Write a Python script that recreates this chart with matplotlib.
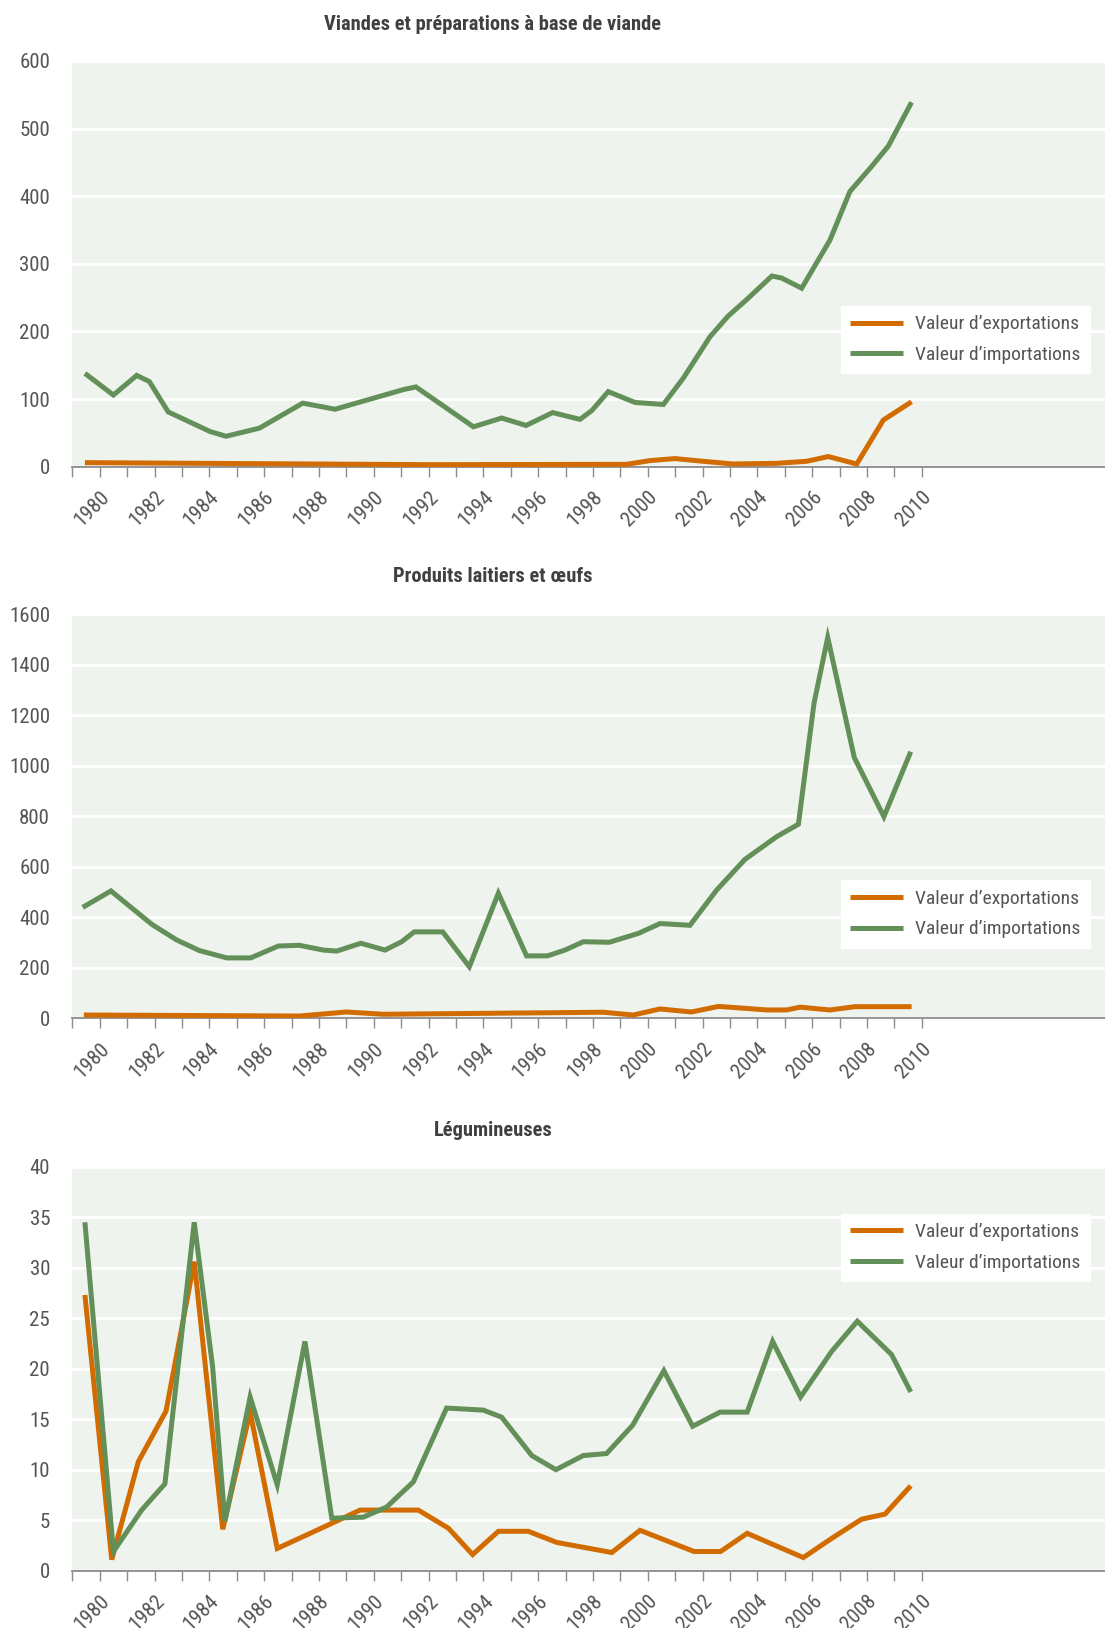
import matplotlib
matplotlib.use("Agg")
import matplotlib.pyplot as plt
from matplotlib.ticker import MultipleLocator, FixedLocator

plt.rcParams['font.family'] = ['Roboto Condensed', 'Lato', 'DejaVu Sans']

# --- data (x in years) ---
titles = ["Viandes et préparations à base de viande",
          "Produits laitiers et œufs",
          "Légumineuses"]
labels = ["Valeur d\u2019exportations", "Valeur d\u2019importations"]

meat_imp_x = [1979.46, 1980.50, 1981.35, 1981.81, 1982.50, 1984.03, 1984.61, 1985.83,
              1987.41, 1988.59, 1990.05, 1991.08, 1991.54, 1993.64, 1994.67, 1995.56,
              1996.53, 1997.53, 1997.96, 1998.56, 1999.54, 2000.57, 2001.30, 2002.27,
              2002.94, 2003.61, 2004.53, 2004.89, 2005.62, 2006.65, 2007.38, 2008.17,
              2008.78, 2009.63]
meat_imp_y = [138, 106, 135, 126, 81, 52, 45, 57, 94, 85, 102, 114, 118, 59, 72, 61,
              80, 70, 83, 111, 95, 92, 131, 192, 223, 247, 282, 279, 264, 335, 407, 444,
              474, 539]
meat_exp_x = [1979.46, 1992.0, 1999.23, 2000.08, 2000.99, 2002.03, 2003.12, 2004.71,
              2005.80, 2006.59, 2007.63, 2008.60, 2009.63]
meat_exp_y = [6, 3, 3.5, 9, 12, 8, 4, 5, 8, 15, 4, 69, 96]

dairy_imp_x = [1979.38, 1980.41, 1981.90, 1982.81, 1983.64, 1984.64, 1985.51, 1986.52,
               1987.28, 1988.16, 1988.65, 1989.53, 1990.41, 1991.02, 1991.48, 1992.52,
               1993.49, 1994.55, 1995.58, 1996.34, 1996.98, 1997.65, 1998.60, 1999.66,
               2000.45, 2001.54, 2002.52, 2003.55, 2004.71, 2005.50, 2006.07, 2006.57,
               2007.54, 2008.62, 2009.60]
dairy_imp_y = [439, 504, 372, 310, 268, 239, 239, 286, 289, 270, 266, 297, 270, 303, 342,
               342, 204, 495, 247, 247, 270, 303, 301, 336, 375, 368, 508, 629, 719, 768,
               1247, 1507, 1032, 798, 1055]
dairy_exp_x = [1979.42, 1987.30, 1989.01, 1990.35, 1998.38, 1999.47, 2000.45, 2001.60,
               2002.58, 2003.50, 2004.35, 2005.07, 2005.56, 2006.65, 2007.56, 2009.63]
dairy_exp_y = [13, 9, 25, 16, 24, 13, 37, 25, 47, 40, 33, 33, 44, 33, 46, 46]

puls_imp_x = [1979.46, 1980.50, 1981.53, 1982.38, 1983.45, 1984.12, 1984.57, 1985.49,
              1986.48, 1987.49, 1988.47, 1989.62, 1990.47, 1991.45, 1992.66, 1994.00,
              1994.67, 1995.77, 1996.65, 1997.65, 1998.50, 1999.45, 2000.59, 2001.64,
              2002.64, 2003.63, 2004.56, 2005.58, 2006.71, 2007.65, 2008.90, 2009.60]
puls_imp_y = [34.5, 1.9, 6.0, 8.6, 34.5, 20.2, 4.9, 17.2, 8.5, 22.7, 5.2, 5.3, 6.3, 8.8,
              16.1, 15.9, 15.2, 11.4, 10.0, 11.4, 11.6, 14.4, 19.8, 14.3, 15.7, 15.7,
              22.7, 17.2, 21.7, 24.7, 21.4, 17.7]
puls_exp_x = [1979.46, 1980.44, 1981.41, 1982.42, 1983.45, 1984.49, 1985.49, 1986.48,
              1988.40, 1989.50, 1991.63, 1992.73, 1993.61, 1994.55, 1995.64, 1996.68,
              1998.69, 1999.72, 2001.69, 2002.66, 2003.63, 2005.68, 2006.77, 2007.81,
              2008.66, 2009.60]
puls_exp_y = [27.3, 1.1, 10.8, 15.8, 30.6, 4.1, 15.7, 2.2, 4.6, 6.0, 6.0, 4.2, 1.6, 3.9,
              3.9, 2.8, 1.8, 4.0, 1.9, 1.9, 3.7, 1.3, 3.3, 5.1, 5.6, 8.4]

ylims = [(0, 600), (0, 1600), (0, 40)]
ysteps = [100, 200, 5]

ORANGE = '#D26B00'
GREEN = '#638F58'
BG = '#EEF3ED'
TXT = '#555555'

W, H = 1105, 1628
fig = plt.figure(figsize=(W / 100, H / 100), dpi=100)

# pixel boxes: (top, bottom) of each plot area, title y, legend top (axes frac)
boxes = [(61, 466.7), (614, 1018.3), (1166.7, 1570.7)]
title_y = [25, 577, 1130]
leg_top = [0.397, 0.341, 0.884]
left_px = 72.3
px_per_year = 27.4

series = [
    (meat_exp_x, meat_exp_y, meat_imp_x, meat_imp_y),
    (dairy_exp_x, dairy_exp_y, dairy_imp_x, dairy_imp_y),
    (puls_exp_x, puls_exp_y, puls_imp_x, puls_imp_y),
]

for i, (top, bot) in enumerate(boxes):
    ax = fig.add_axes([left_px / W, 1 - bot / H, (W - left_px) / W, (bot - top) / H])
    ax.set_facecolor(BG)
    ex, ey, ix, iy = series[i]
    ax.plot(ex, ey, color=ORANGE, lw=3.6, label=labels[0],
            solid_joinstyle='miter', solid_capstyle='butt', zorder=3)
    ax.plot(ix, iy, color=GREEN, lw=3.6, label=labels[1],
            solid_joinstyle='miter', solid_capstyle='butt', zorder=3)

    ax.set_xlim(1979, 1979 + (W - left_px) / px_per_year)
    ax.set_ylim(*ylims[i])
    ax.yaxis.set_major_locator(MultipleLocator(ysteps[i]))
    ax.grid(axis='y', color='white', lw=2)
    ax.set_axisbelow(True)

    ax.xaxis.set_major_locator(FixedLocator(list(range(1980, 2011, 2))))
    ax.xaxis.set_minor_locator(FixedLocator(list(range(1979, 2011))))
    ax.set_xticklabels([str(y) for y in range(1980, 2011, 2)], rotation=45,
                       ha='right', rotation_mode='anchor')
    ax.tick_params(axis='x', which='both', direction='out', length=7, width=1,
                   color='#8c8c8c', labelsize=15, labelcolor=TXT, pad=8)
    ax.tick_params(axis='y', length=0, labelsize=15, labelcolor=TXT, pad=16)

    for s in ['top', 'right', 'left']:
        ax.spines[s].set_visible(False)
    ax.spines['bottom'].set_color('#8c8c8c')
    ax.spines['bottom'].set_linewidth(1.3)

    leg = ax.legend(loc='upper left', bbox_to_anchor=(0.744, leg_top[i]),
                    fontsize=14, frameon=True, fancybox=False, framealpha=1,
                    edgecolor='white', facecolor='white', handlelength=2.73,
                    handletextpad=0.57, labelspacing=0.63, borderpad=0.5,
                    borderaxespad=0)
    for t in leg.get_texts():
        t.set_color(TXT)

    fig.text(493 / W, 1 - title_y[i] / H, titles[i], ha='center', va='center',
             fontsize=14.8, fontweight='bold', color='#404040')

fig.savefig('out.png', dpi=100, facecolor='white')
